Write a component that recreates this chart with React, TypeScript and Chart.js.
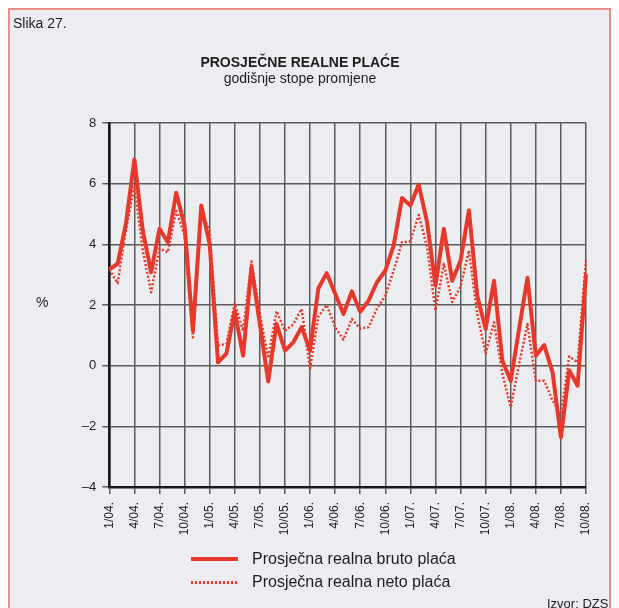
import { useEffect, useRef } from 'react';
import { Chart, registerables } from 'chart.js';

Chart.register(...registerables);

const monthLabels = [
  '1/04.', '2/04.', '3/04.', '4/04.', '5/04.', '6/04.', '7/04.', '8/04.', '9/04.', '10/04.', '11/04.', '12/04.',
  '1/05.', '2/05.', '3/05.', '4/05.', '5/05.', '6/05.', '7/05.', '8/05.', '9/05.', '10/05.', '11/05.', '12/05.',
  '1/06.', '2/06.', '3/06.', '4/06.', '5/06.', '6/06.', '7/06.', '8/06.', '9/06.', '10/06.', '11/06.', '12/06.',
  '1/07.', '2/07.', '3/07.', '4/07.', '5/07.', '6/07.', '7/07.', '8/07.', '9/07.', '10/07.', '11/07.', '12/07.',
  '1/08.', '2/08.', '3/08.', '4/08.', '5/08.', '6/08.', '7/08.', '8/08.', '9/08.', '10/08.',
];

const brutoValues = [
  3.17, 3.36, 4.7, 6.8, 4.46, 3.08, 4.51, 4.07, 5.7, 4.62, 1.15, 5.28,
  4.0, 0.11, 0.4, 1.8, 0.33, 3.25, 1.37, -0.52, 1.38, 0.5, 0.77, 1.27,
  0.5, 2.55, 3.05, 2.38, 1.7, 2.45, 1.78, 2.14, 2.75, 3.13, 3.96, 5.53,
  5.28, 5.97, 4.73, 2.64, 4.51, 2.8, 3.46, 5.12, 2.3, 1.21, 2.8, 0.16,
  -0.5, 1.21, 2.9, 0.33, 0.68, -0.22, -2.36, -0.16, -0.66, 3.02,
];

const netoValues = [
  3.17, 2.72, 4.5, 5.9, 3.8, 2.42, 3.86, 3.74, 5.1, 4.3, 0.93, 5.1,
  4.4, 0.66, 0.72, 2.05, 1.15, 3.44, 1.7, 0.25, 1.8, 1.15, 1.37, 1.87,
  -0.1, 1.62, 2.0, 1.27, 0.86, 1.54, 1.22, 1.27, 1.88, 2.3, 3.13, 4.07,
  4.1, 4.97, 3.9, 1.82, 3.36, 2.1, 2.6, 3.8, 1.7, 0.4, 1.43, -0.27,
  -1.37, 0.05, 1.37, -0.5, -0.5, -1.15, -1.6, 0.3, 0.11, 3.48,
];

const seriesNames = ['Prosječna realna bruto plaća', 'Prosječna realna neto plaća'];
const yMin = -4;
const yMax = 8;
const yStep = 2;
const labelEvery = 3;

const RED = '#E8382B';
const GRID = '#5c5c5c';
const AXIS = '#1a1a1a';
const FONT = '"Liberation Sans", Arial, Helvetica, sans-serif';

export default function App() {
  const canvasRef = useRef<HTMLCanvasElement | null>(null);

  useEffect(() => {
    document.documentElement.style.overflow = 'hidden';
    document.body.style.overflow = 'hidden';
    if (!canvasRef.current) return;
    const chart = new Chart(canvasRef.current, {
      type: 'line',
      data: {
        labels: monthLabels,
        datasets: [
          {
            label: seriesNames[0],
            data: brutoValues,
            borderColor: RED,
            backgroundColor: RED,
            borderWidth: 4,
            borderJoinStyle: 'round',
            pointRadius: 0,
            tension: 0,
            fill: false,
          },
          {
            label: seriesNames[1],
            data: netoValues,
            borderColor: RED,
            backgroundColor: RED,
            borderWidth: 2.5,
            borderDash: [2, 2],
            borderJoinStyle: 'round',
            pointRadius: 0,
            tension: 0,
            fill: false,
          },
        ],
      },
      options: {
        responsive: false,
        animation: false,
        devicePixelRatio: 1,
        layout: { padding: { left: 0, right: 23, top: 113, bottom: 59 } },
        plugins: {
          legend: { display: false },
          tooltip: { enabled: false },
          title: { display: false },
        },
        scales: {
          x: {
            type: 'category',
            offset: false,
            grid: {
              color: (ctx: any) => (ctx.index % labelEvery === 0 ? GRID : 'rgba(0,0,0,0)'),
              tickColor: (ctx: any) => (ctx.index % labelEvery === 0 ? GRID : 'rgba(0,0,0,0)'),
              lineWidth: 1.5,
              tickLength: 7,
              drawTicks: true,
            },
            border: { color: AXIS, width: 2.5 },
            ticks: {
              autoSkip: false,
              minRotation: 90,
              maxRotation: 90,
              padding: 8,
              color: '#222',
              font: { family: FONT, size: 12 },
              callback: (_v: any, i: number) => (i % labelEvery === 0 ? monthLabels[i] : ''),
            },
            afterFit: (s: any) => {
              s.height = 60;
            },
          },
          y: {
            min: yMin,
            max: yMax,
            ticks: {
              stepSize: yStep,
              padding: 6,
              color: '#222',
              font: { family: FONT, size: 13 },
              callback: (v: any) => (Number(v) < 0 ? '–' + Math.abs(Number(v)) : String(v)),
            },
            grid: { color: GRID, lineWidth: 1.5, tickLength: 7, tickColor: GRID },
            border: { color: AXIS, width: 2.5 },
            afterFit: (s: any) => {
              s.width = 99.3;
            },
          },
        },
      },
    });
    return () => chart.destroy();
  }, []);

  const text = { position: 'absolute' as const, whiteSpace: 'nowrap' as const, color: '#1e1e1e', fontFamily: FONT };

  return (
    <div
      style={{
        position: 'relative',
        width: 603,
        height: 600,
        boxSizing: 'border-box',
        border: '2px solid #EC8F89',
        borderBottom: 'none',
        background: '#ECEDF0',
        fontFamily: FONT,
      }}
    >
      <canvas
        ref={canvasRef}
        width={599}
        height={596}
        style={{ position: 'absolute', left: 0, top: 0, width: 599, height: 596 }}
      />
      <div style={{ ...text, left: 3, top: 5, fontSize: 14, lineHeight: '16px' }}>Slika 27.</div>
      <div style={{ ...text, left: 290, top: 44, fontSize: 14, lineHeight: '16px', fontWeight: 'bold', transform: 'translateX(-50%)' }}>
        PROSJEČNE REALNE PLAĆE
      </div>
      <div style={{ ...text, left: 290, top: 60, fontSize: 14, lineHeight: '16px', transform: 'translateX(-50%)' }}>
        godišnje stope promjene
      </div>
      <div style={{ ...text, left: 26, top: 284, fontSize: 14, lineHeight: '16px' }}>%</div>
      <div style={{ position: 'absolute', left: 181, top: 547, width: 47, height: 4, background: RED }} />
      <div style={{ ...text, left: 242, top: 540, fontSize: 16, lineHeight: '18px' }}>{seriesNames[0]}</div>
      <div
        style={{
          position: 'absolute',
          left: 181,
          top: 571,
          width: 47,
          height: 2.5,
          background: `repeating-linear-gradient(to right, ${RED} 0px, ${RED} 2px, transparent 2px, transparent 4px)`,
        }}
      />
      <div style={{ ...text, left: 242, top: 563, fontSize: 16, lineHeight: '18px' }}>{seriesNames[1]}</div>
      <div style={{ ...text, left: 537, top: 586, fontSize: 13, lineHeight: '16px' }}>Izvor: DZS</div>
    </div>
  );
}
